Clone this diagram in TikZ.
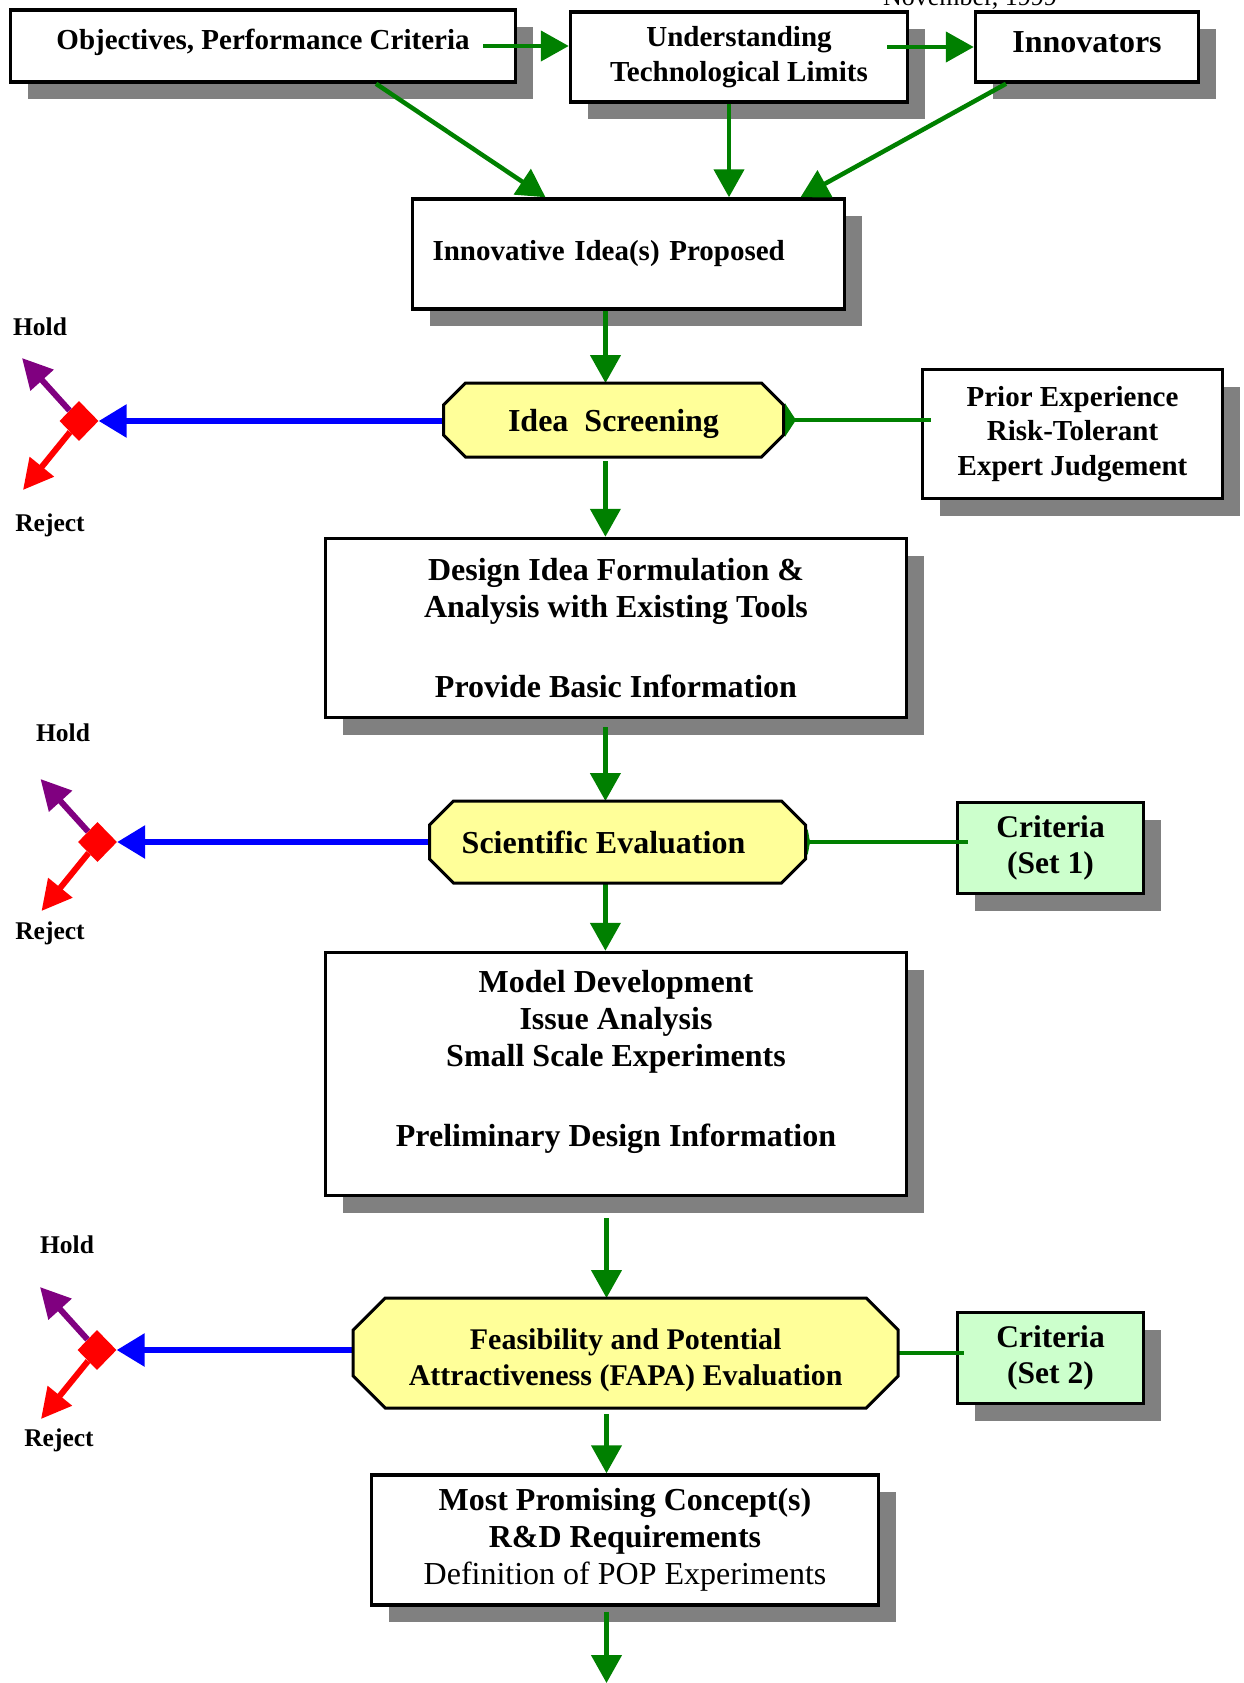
\documentclass[tikz,border=0pt]{standalone}
\usepackage{fontspec}
\setmainfont{Liberation Serif}
\usetikzlibrary{arrows.meta,shapes.geometric,shadows}

\definecolor{ggreen}{HTML}{008000}
\definecolor{hpurple}{HTML}{800080}
\definecolor{critfill}{HTML}{CCFFCC}
\definecolor{evalfill}{HTML}{FFFF99}

\pgfdeclarelayer{mid}
\pgfdeclarelayer{front}
\pgfsetlayers{main,mid,front}

\newcommand{\fs}[2]{\fontsize{#1}{#2}\selectfont}
\newcommand{\shiftline}[2]{\raisebox{#1}[\height][\depth]{#2}}
% octagonal frame round an evaluation node: #1 node, #2 chamfer
\newcommand{\evalframe}[2]{%
  \draw[line width=3pt,fill=evalfill,line join=miter]
    ([xshift=#2]#1.north west) -- ([xshift=-#2]#1.north east) -- ([yshift=-#2]#1.north east)
    -- ([yshift=#2]#1.south east) -- ([xshift=-#2]#1.south east) -- ([xshift=#2]#1.south west)
    -- ([yshift=#2]#1.south west) -- ([yshift=-#2]#1.north west) -- cycle;}

\begin{document}
\begin{tikzpicture}[x=1pt,y=-1pt,
  box/.style={draw,line width=3.5pt,fill=white,inner sep=0pt,align=center,
    drop shadow={shadow xshift=17pt,shadow yshift=-17pt,fill=black!50,opacity=1}},
  crit/.style={box,fill=critfill,minimum width=186pt,minimum height=91pt,font=\fs{31.5}{35.5}\bfseries},
  evalbox/.style={rectangle,inner sep=0pt,outer sep=0pt,align=center},
  dia/.style={diamond,fill=red,inner sep=0pt,minimum width=39pt,minimum height=40pt},
  lbl/.style={font=\fs{25.5}{30}\bfseries,inner sep=0pt},
  flow/.style={draw=ggreen,line width=4.5pt,-{Triangle[length=28pt,width=30pt]}},
  feed/.style={draw=ggreen,line width=4.5pt,-{Triangle[reversed,length=#1,width=33pt]}},
  bluearrow/.style={draw=blue,line width=6pt,-{Triangle[length=28pt,width=32pt]}},
  holdarrow/.style={draw=hpurple,line width=6pt,-{Triangle[length=30pt,width=30pt]}},
  rejarrow/.style={draw=red,line width=6pt,-{Triangle[length=30pt,width=30pt]}}]
\useasboundingbox (0,0) rectangle (1243,1683);

% top row
\node[font=\fs{26}{30},anchor=base] (date) at (970,6) {November, 1999};
\node[box,minimum width=505pt,minimum height=72pt,font=\fs{29}{34.4}\bfseries] (obj) at (263,46)
  {\shiftline{4pt}{Objectives, Performance Criteria}};
\node[box,minimum width=337pt,minimum height=90pt,font=\fs{29}{34.4}\bfseries] (und) at (739,57)
  {Understanding\\Technological Limits};
\node[box,minimum width=223pt,minimum height=70pt,font=\fs{32}{36}\bfseries] (inn) at (1087,47)
  {\raisebox{10pt}{Innovators}};

% boxes of the main column
\node[box,minimum height=110pt,text width=392pt,inner xsep=20pt,align=left,font=\fs{29}{34.4}\bfseries] (prop) at (628.5,254)
  {Innovative Idea(s) Proposed};
\node[box,minimum width=300pt,minimum height=129pt,font=\fs{29}{34.4}\bfseries] (prior) at (1072.5,434)
  {Prior Experience\\Risk-Tolerant\\Expert Judgement};
\node[box,minimum width=581pt,minimum height=179pt,font=\fs{32}{36.5}\bfseries] (design) at (616,628)
  {Design Idea Formulation \&\\Analysis with Existing Tools\\[43.5pt]Provide Basic Information};
\node[box,minimum width=581pt,minimum height=243pt,font=\fs{32}{37}\bfseries] (model) at (616,1074)
  {Model Development\\Issue Analysis\\Small Scale Experiments\\[43pt]Preliminary Design Information\\[-5pt]\mbox{}};
\node[crit] (set1) at (1050.5,848) {Criteria\\(Set 1)};
\node[crit] (set2) at (1050.5,1358) {Criteria\\(Set 2)};
\node[box,minimum width=507pt,minimum height=130pt,font=\fs{32}{37}\bfseries] (most) at (625,1540)
  {Most Promising Concept(s)\\R\&D Requirements\\{\mdseries Definition of POP Experiments}};

% evaluation steps
\begin{pgfonlayer}{front}
\node[evalbox,minimum width=340pt,minimum height=74pt,font=\fs{32}{36}\bfseries] (scr) at (613.5,420)
  {\shiftline{-4pt}{Idea\ \ Screening}};
\node[evalbox,minimum width=376pt,minimum height=82pt,font=\fs{32}{36}\bfseries] (sci) at (617.5,842)
  {Scientific Evaluation\hspace*{28pt}};
\node[evalbox,minimum width=545pt,minimum height=110pt,font=\fs{30}{35.5}\bfseries] (fapa) at (625.7,1353)
  {\shiftline{-7.5pt}{Feasibility and Potential}\\\shiftline{-7.5pt}{Attractiveness (FAPA) Evaluation}};
\end{pgfonlayer}
\begin{pgfonlayer}{mid}
\evalframe{scr}{22pt}
\evalframe{sci}{24pt}
\evalframe{fapa}{32pt}
\end{pgfonlayer}

% connectors
\draw[flow] ([xshift=-34pt]obj.east) -- (obj.east -| und.west);
\draw[flow] ([xshift=-22pt]und.east |- inn.west) -- (inn.west);
\draw[flow] ([xshift=113pt]obj.south) -- ([xshift=-83pt]prop.north);
\draw[flow] ([xshift=-10pt]und.south) -- ([xshift=-10pt]und.south |- prop.north);
\draw[flow] ([xshift=-81pt]inn.south) -- ([xshift=172pt]prop.north);
\draw[flow] ([xshift=-23pt]prop.south) -- ([xshift=-23pt]prop.south |- scr.north);
\draw[feed=11pt] ([xshift=10pt]prior.west |- scr.east) -- ([xshift=1.5pt]scr.east);
\draw[flow] ([xshift=-10.6pt,yshift=-4pt]design.north |- scr.south) -- ([xshift=-10.6pt]design.north);
\draw[flow] ([xshift=-10.6pt,yshift=-8pt]design.south) -- ([xshift=-10.6pt]design.south |- sci.north);
\draw[feed=3pt] ([xshift=12pt]set1.west |- sci.east) -- ([xshift=1.5pt]sci.east);
\draw[flow] ([xshift=-10.6pt]model.north |- sci.south) -- ([xshift=-10.6pt]model.north);
\draw[flow] ([xshift=-9.5pt,yshift=-21pt]model.south) -- ([xshift=-9.5pt]model.south |- fapa.north);
\draw[draw=ggreen,line width=4.5pt] ([xshift=8pt]set2.west |- fapa.east) -- (fapa.east);
\draw[flow] ([xshift=-18.5pt,yshift=-6pt]most.north |- fapa.south) -- ([xshift=-18.5pt]most.north);
\coordinate (out) at (606.5,1683);
\draw[flow] ([xshift=-18.5pt,yshift=-5pt]most.south) -- (out);

% hold / reject switches
\foreach \k/\src/\x/\y/\hx/\hy/\rx/\ry in
  {1/scr/79/421/40/327/50/525, 2/sci/97.5/842/63/733/50/933, 3/fapa/97/1350/67/1245/59/1440} {
  \node[dia] (d\k) at (\x,\y) {};
  \coordinate (hold\k) at (\x-57,\y-63);
  \coordinate (rej\k) at (\x-56,\y+69);
  \draw[holdarrow] (d\k) -- (hold\k);
  \draw[rejarrow] (d\k) -- (rej\k);
  \draw[bluearrow] (\src.west |- d\k) -- (d\k);
  \node[lbl] (holdtxt\k) at (\hx,\hy) {Hold};
  \node[lbl] (rejtxt\k) at (\rx,\ry) {Reject};
}
\end{tikzpicture}
\end{document}
